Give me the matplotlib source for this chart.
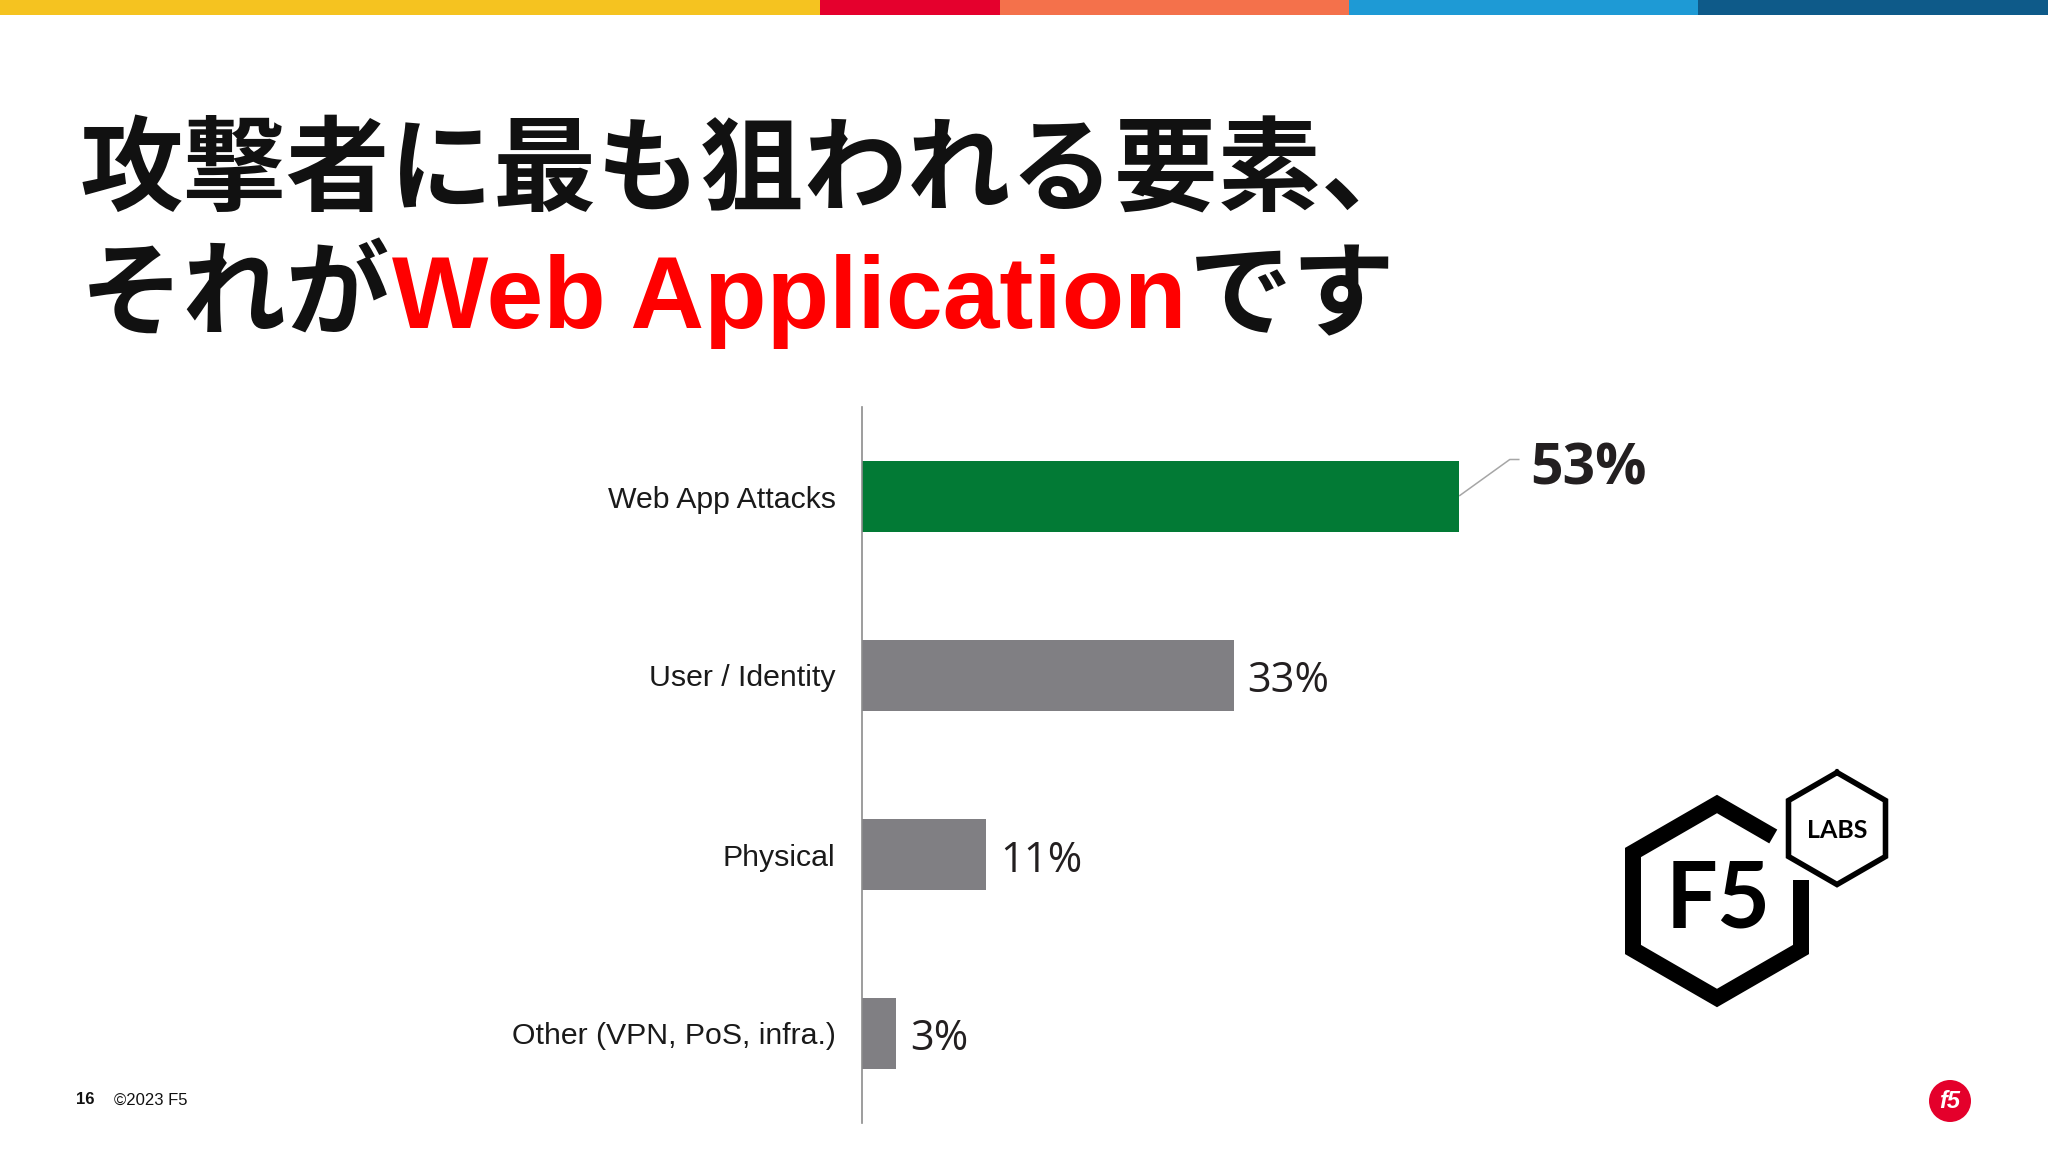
import matplotlib
matplotlib.use("Agg")
import matplotlib.pyplot as plt
import numpy as np
from matplotlib.patches import Rectangle, Circle

# ---------------- data ----------------
categories = ["Web App Attacks", "User / Identity", "Physical", "Other (VPN, PoS, infra.)"]
values = [53, 33, 11, 3]
value_labels = ["53%", "33%", "11%", "3%"]
title_line1 = "攻撃者に最も狙われる要素、"
title_line2_pre = "それが"
title_line2_red = "Web Application"
title_line2_post = "です"
footer_page = "16"
footer_copy = "©2023 F5"
strip_colors = ["#F5C320", "#E5002D", "#F4714B", "#1E9AD5", "#0E5A89"]
strip_bounds = [0, 820, 1000, 1349, 1698, 2048]

W, H = 2048, 1152
fig = plt.figure(figsize=(W / 100, H / 100), dpi=100)
fig.patch.set_facecolor("white")

# overlay axes in pixel coordinates (y down)
ov = fig.add_axes([0, 0, 1, 1], zorder=0)
ov.set_xlim(0, W)
ov.set_ylim(H, 0)
ov.axis("off")

# top colour strip
for i, c in enumerate(strip_colors):
    ov.add_patch(Rectangle((strip_bounds[i], 0), strip_bounds[i + 1] - strip_bounds[i], 15,
                           facecolor=c, edgecolor="none"))

# ---------------- title ----------------
jp = ["Noto Sans CJK JP", "DejaVu Sans"]
ov.text(80, 204, title_line1, fontsize=74.5, fontweight="bold", family=jp,
        va="baseline", ha="left", color="#111111")
r = fig.canvas.get_renderer()
t_pre = ov.text(80, 328, title_line2_pre, fontsize=74.5, fontweight="bold", family=jp,
                va="baseline", ha="left", color="#111111")
x1 = t_pre.get_window_extent(r).x1
t_red = ov.text(x1 + 2, 328, title_line2_red, fontsize=73.5, fontweight="bold",
                family=["Liberation Sans", "DejaVu Sans"], va="baseline", ha="left",
                color="#FF0000")
x2 = t_red.get_window_extent(r).x1
ov.text(x2 + 2, 328, title_line2_post, fontsize=74.5, fontweight="bold", family=jp,
        va="baseline", ha="left", color="#111111")

# ---------------- bar chart ----------------
ax_left, ax_top, ax_bot = 862, 407, 1123
px_per_pct = 11.26
ax_w = 900
ax = fig.add_axes([ax_left / W, 1 - ax_bot / H, ax_w / W, (ax_bot - ax_top) / H], zorder=2)
ax.patch.set_alpha(0)
ypos = np.arange(len(categories))
colors = ["#027A35"] + ["#807F83"] * (len(categories) - 1)
ax.barh(ypos, values, height=0.4, color=colors, edgecolor="none")
ax.set_xlim(0, ax_w / px_per_pct)
ax.set_ylim(len(categories) - 0.5, -0.5)
for s in ["top", "right", "bottom"]:
    ax.spines[s].set_visible(False)
ax.spines["left"].set_color("#8C8C8C")
ax.spines["left"].set_linewidth(1.2)
ax.set_xticks([])
ax.set_yticks(ypos)
ax.set_yticklabels(categories, fontsize=21.8, family=["Liberation Sans", "DejaVu Sans"],
                   color="#1A1A1A")
ax.tick_params(axis="y", length=0, pad=19)

for i, (v, lab) in enumerate(zip(values, value_labels)):
    if i == 0:
        ax.annotate(lab, xy=(v, i), xytext=(71, 12), textcoords="offset pixels",
                    fontsize=41, fontweight="bold", family=["Open Sans", "DejaVu Sans"],
                    color="#231F20", va="baseline", ha="left")
        # leader line
        p0 = ax.transData.transform((v, i))
        p0 = ov.transData.inverted().transform(p0)
        xs = [p0[0] + 1, p0[0] + 51, p0[0] + 60]
        ys = [p0[1] - 1, p0[1] - 37, p0[1] - 37]
        ov.plot(xs, ys, color="#A6A6A6", lw=1.1, zorder=3)
    else:
        ax.annotate(lab, xy=(v, i), xytext=(14, -17), textcoords="offset pixels",
                    fontsize=30, family=["Open Sans", "DejaVu Sans"],
                    color="#231F20", va="baseline", ha="left")

# ---------------- F5 LABS logo ----------------
def hex_pts(cx, cy, R):
    angs = np.deg2rad([90, 30, -30, -90, -150, 150])
    return [(cx + R * np.cos(a), cy - R * np.sin(a)) for a in angs]

cx, cy, R = 1717, 901, 97
pts = hex_pts(cx, cy, R)
top, ur, lr, bot, ll, ul = pts
start = (lr[0], 880)
end = (top[0] + 0.67 * (ur[0] - top[0]), top[1] + 0.67 * (ur[1] - top[1]))
path = [start, lr, bot, ll, ul, top, end]
ov.plot([p[0] for p in path], [p[1] for p in path], color="black", lw=11.5,
        solid_joinstyle="miter", solid_capstyle="butt", zorder=3)
ov.text(cx + 1, 902, "F5", fontsize=66, fontweight="bold", family=["Lato", "DejaVu Sans"],
        ha="center", va="center", color="black")

scx, scy, sR = 1837, 828.5, 56
spts = hex_pts(scx, scy, sR)
spts.append(spts[0])
ov.plot([p[0] for p in spts], [p[1] for p in spts], color="black", lw=4,
        solid_joinstyle="miter", zorder=3)
ov.text(scx, 830, "LABS", fontsize=18, fontweight="bold", family=["Lato", "DejaVu Sans"],
        ha="center", va="center", color="black")

# ---------------- footer ----------------
ov.text(76, 1100, footer_page, fontsize=12, fontweight="bold",
        family=["Liberation Sans", "DejaVu Sans"], va="center", ha="left", color="#111111")
ov.text(114, 1100, footer_copy, fontsize=12,
        family=["Liberation Sans", "DejaVu Sans"], va="center", ha="left", color="#111111")
ov.add_patch(Circle((1950, 1101), 21, facecolor="#E4002B", edgecolor="none", zorder=3))
ov.text(1950, 1102, "f5", fontsize=17, fontweight="bold", style="italic", color="white",
        family=["Liberation Sans", "DejaVu Sans"], ha="center", va="center", zorder=4)

fig.savefig("out.png", dpi=100)
